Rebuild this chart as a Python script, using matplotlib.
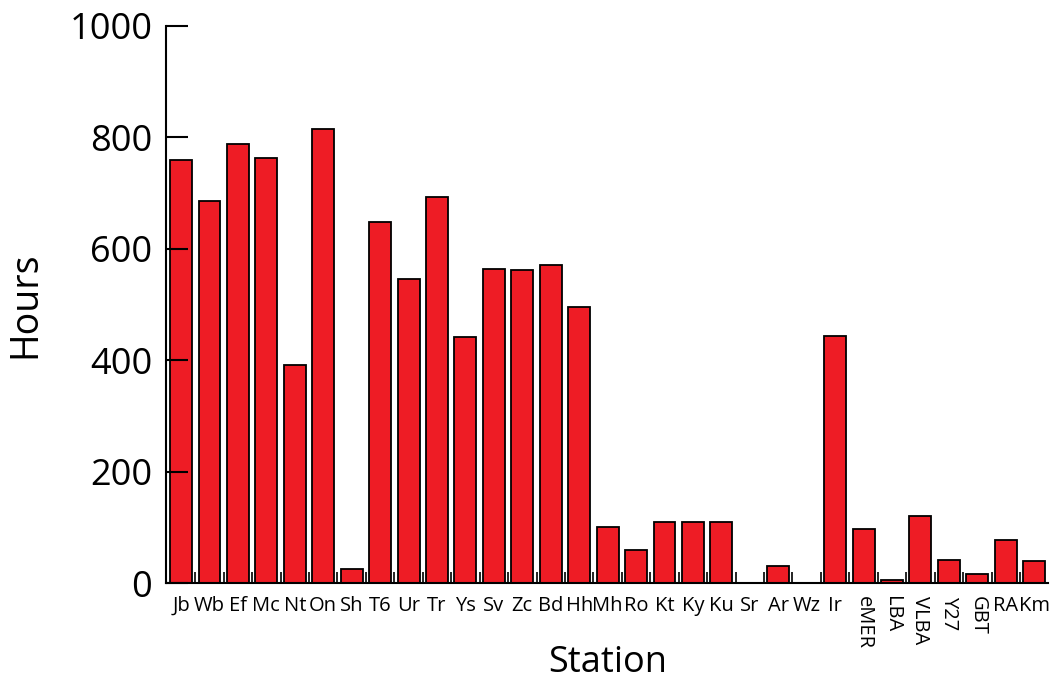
import numpy as np
import matplotlib.pyplot as plt

# Station observing hours
stations = ['Jb', 'Wb', 'Ef', 'Mc', 'Nt', 'On', 'Sh', 'T6', 'Ur', 'Tr', 'Ys', 'Sv',
            'Zc', 'Bd', 'Hh', 'Mh', 'Ro', 'Kt', 'Ky', 'Ku', 'Sr', 'Ar', 'Wz', 'Ir',
            'eMER', 'LBA', 'VLBA', 'Y27', 'GBT', 'RA', 'Km']
hours = [759, 686, 788, 763, 391, 815, 25, 648, 546, 693, 442, 564,
         562, 571, 496, 100, 59, 110, 110, 110, 0, 31, 0, 443,
         97, 5, 120, 41, 16, 77, 39]
rotated = ['eMER', 'LBA', 'VLBA', 'Y27', 'GBT']

plt.rcParams['font.family'] = ['Open Sans', 'DejaVu Sans']

fig = plt.figure(figsize=(10.59, 6.82), dpi=100)
ax = fig.add_axes([0.157, 0.145, 0.833, 0.817])

x = np.arange(len(stations))
ax.bar(x, hours, width=0.77, color='#ee1c25', edgecolor='black', linewidth=1.3)

ax.set_xlim(-0.52, len(stations) - 0.5)
ax.set_ylim(0, 1000)

ax.spines['top'].set_visible(False)
ax.spines['right'].set_visible(False)
ax.spines['left'].set_linewidth(1.5)
ax.spines['bottom'].set_linewidth(1.5)

ax.set_yticks(np.arange(0, 1001, 200))
ax.tick_params(axis='y', direction='in', length=16, width=1.5, labelsize=26, pad=10)

# station names at bar centres, ticks between bars
ax.set_xticks(x)
ax.set_xticklabels(stations, fontsize=14.5)
ax.tick_params(axis='x', which='major', length=0, pad=9)
for lab in ax.get_xticklabels():
    if lab.get_text() in rotated:
        lab.set_rotation(-90)
        lab.set_va('top')
ax.set_xticks(x[:-1] + 0.5, minor=True)
ax.tick_params(axis='x', which='minor', direction='in', length=8, width=1.2)

ax.set_ylabel('Hours', fontsize=27, labelpad=18)
fig.text(0.574, 0.002, 'Station', fontsize=26, ha='center', va='bottom')

fig.savefig('out.png', dpi=100)
